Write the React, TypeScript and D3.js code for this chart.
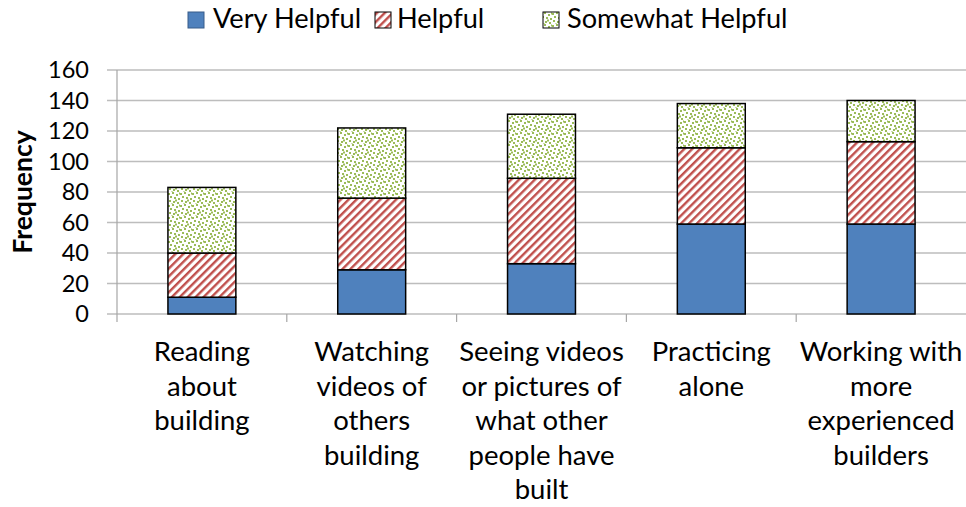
import React from "react";
import * as d3 from "d3";

const categories: string[][] = [
  ["Reading", "about", "building"],
  ["Watching", "videos of", "others", "building"],
  ["Seeing videos", "or pictures of", "what other", "people have", "built"],
  ["Practicing", "alone"],
  ["Working with", "more", "experienced", "builders"],
];
const veryHelpful = [11, 29, 33, 59, 59];
const helpful = [29, 47, 56, 50, 54];
const somewhatHelpful = [43, 46, 42, 29, 27];
const seriesNames = ["Very Helpful", "Helpful", "Somewhat Helpful"];
const yTicks = [0, 20, 40, 60, 80, 100, 120, 140, 160];

const W = 966;
const H = 507;
const FONT = "Lato, 'Open Sans', sans-serif";

export default function App() {
  const left = 117;
  const right = 966;
  const top = 70;
  const bottom = 314;

  const keys = ["vh", "h", "sh"];
  const rows = categories.map((c, i) => ({
    idx: i,
    vh: veryHelpful[i],
    h: helpful[i],
    sh: somewhatHelpful[i],
  }));
  const stacked = d3.stack<any>().keys(keys)(rows);

  const x = d3
    .scaleBand<number>()
    .domain(categories.map((_, i) => i))
    .range([left, right])
    .paddingInner(0.6)
    .paddingOuter(0.3);
  const step = x.step();
  const y = d3.scaleLinear().domain([0, 160]).range([bottom, top]);

  const fills = ["#4f81bd", "url(#stripes)", "url(#confetti)"];

  const legend = [
    { sq: 188, tx: 213 },
    { sq: 375, tx: 397 },
    { sq: 543, tx: 567 },
  ];

  const confettiDots = [
    [0, 1], [4, 0], [8, 2], [2, 4], [6, 5], [10, 6], [1, 8], [5, 9], [9, 10], [3, 11.5], [7, 7.5], [11, 0.5],
  ];

  return (
    <svg
      width={W}
      height={H}
      style={{ position: "absolute", left: 0, top: 0, background: "#fff" }}
    >
      <defs>
        <pattern
          id="stripes"
          patternUnits="userSpaceOnUse"
          width={5.6}
          height={10}
          patternTransform="rotate(45)"
        >
          <rect width={5.6} height={10} fill="#ffffff" />
          <rect x={0} width={2.4} height={10} fill="#c0504d" />
        </pattern>
        <pattern
          id="confetti"
          patternUnits="userSpaceOnUse"
          width={12}
          height={12}
        >
          <rect width={12} height={12} fill="#ffffff" />
          {confettiDots.map(([cx, cy], i) => (
            <rect key={i} x={cx} y={cy} width={2} height={2} fill="#9bbb59" />
          ))}
        </pattern>
      </defs>

      {yTicks.map((t) => (
        <line
          key={t}
          x1={left - 10}
          x2={right}
          y1={y(t)}
          y2={y(t)}
          stroke="#bdbdbd"
          strokeWidth={1.5}
        />
      ))}
      <line x1={left} x2={left} y1={top} y2={bottom + 8} stroke="#a6a6a6" strokeWidth={1.2} />
      {categories.map((_, i) =>
        i === 0 ? null : (
          <line
            key={i}
            x1={left + step * i}
            x2={left + step * i}
            y1={bottom}
            y2={bottom + 8}
            stroke="#a6a6a6"
            strokeWidth={1.2}
          />
        )
      )}

      {yTicks.map((t) => (
        <text
          key={t}
          x={89}
          y={y(t)}
          dy="0.36em"
          textAnchor="end"
          fontFamily={FONT}
          fontSize={23.5}
          fill="#000"
        >
          {t}
        </text>
      ))}

      <text
        transform={`translate(32, ${(top + bottom) / 2}) rotate(-90)`}
        textAnchor="middle"
        fontFamily={FONT}
        fontWeight="bold"
        fontSize={26.5}
        fill="#000"
      >
        Frequency
      </text>

      {stacked.map((s, si) => (
        <g key={si}>
          {s.map((d, i) => (
            <rect
              key={i}
              x={x(i)!}
              y={y(d[1])}
              width={x.bandwidth()}
              height={y(d[0]) - y(d[1])}
              fill={fills[si]}
              stroke="#000"
              strokeWidth={1.5}
            />
          ))}
        </g>
      ))}

      {categories.map((lines, i) => (
        <text
          key={i}
          x={x(i)! + x.bandwidth() / 2}
          y={361}
          textAnchor="middle"
          fontFamily={FONT}
          fontSize={27.5}
          fill="#000"
        >
          {lines.map((l, j) => (
            <tspan key={j} x={x(i)! + x.bandwidth() / 2} y={361 + j * 34.6}>
              {l}
            </tspan>
          ))}
        </text>
      ))}

      {seriesNames.map((n, i) => (
        <g key={n}>
          <rect
            x={legend[i].sq}
            y={12}
            width={16}
            height={16}
            fill={fills[i]}
            stroke={i === 0 ? "#385d8a" : "#000"}
            strokeWidth={1}
          />
          <text x={legend[i].tx} y={28} fontFamily={FONT} fontSize={27.2} fill="#000">
            {n}
          </text>
        </g>
      ))}
    </svg>
  );
}
